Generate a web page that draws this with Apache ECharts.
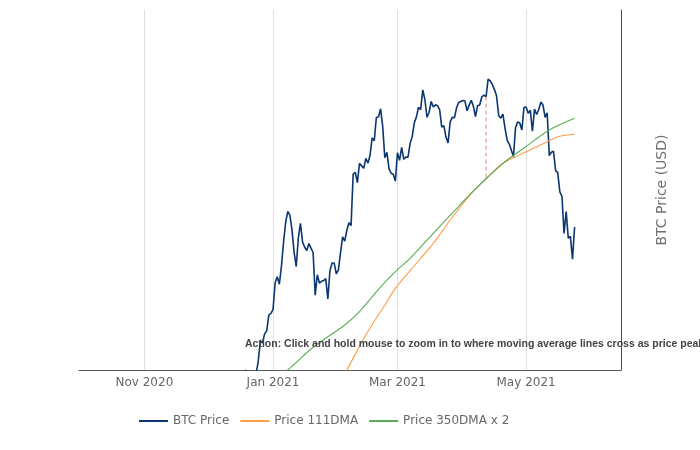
<!DOCTYPE html>
<html>
<head>
<meta charset="utf-8">
<script src="https://cdn.jsdelivr.net/npm/echarts@6/dist/echarts.min.js"></script>
<style>
html,body{margin:0;padding:0;background:#ffffff;}
#chart{width:700px;height:450px;}
</style>
</head>
<body>
<div id="chart"></div>
<script>
// ---------- DATA ----------
// BTC daily price (USD), one value per day starting at the given date
const priceDec2020Start = '2020-12-15';
const priceDec2020 = [19440, 21310, 22810, 23140, 24000, 23480, 22750, 23820, 23250, 23730,
  24710, 26490, 26280, 27080, 27360, 28840, 29000];
const priceJan2021Start = '2021-01-01';
const priceJan2021 = [29370, 32130, 32780, 31970, 33990, 36820, 39370, 40800, 40250, 38350,
  35570, 33920, 37320, 39190, 36830, 36180, 35790, 36630, 36070, 35550,
  30830, 33000, 32100, 32290, 32370, 32570, 30430, 33470, 34320, 34320, 33110];
const priceFeb2021Start = '2021-02-01';
const priceFeb2021 = [33540, 35510, 37470, 36930, 38300, 39260, 38900, 46200, 46480, 44920,
  47910, 47500, 47110, 48720, 47940, 49200, 52150, 51680, 55890, 55920,
  57490, 54210, 48820, 49710, 47070, 46340, 46190, 45140];
const priceMar2021Start = '2021-03-01';
const priceMar2021 = [49630, 48380, 50540, 48560, 48930, 48910, 51210, 52380, 54880, 55960,
  57780, 57330, 61240, 59300, 55880, 56830, 58910, 57850, 58250, 58100,
  57350, 54080, 54340, 52300, 51290, 55030, 55860, 55780, 57630, 58730, 58920];
const priceApr2021Start = '2021-04-01';
const priceApr2021 = [59100, 59000, 57090, 58200, 59130, 57990, 56030, 58100, 58240, 59790,
  60200, 59890, 63500, 63110, 62310, 61310, 60000, 56220, 55720, 56470,
  53910, 51760, 51090, 50050, 49000, 54020, 55030, 54820, 53550, 57750];
const priceMay2021Start = '2021-05-01';
const priceMay2021 = [57830, 56630, 57200, 53330, 57420, 56400, 57360, 58800, 58230, 55860,
  56700, 49150, 49720, 49880, 46760, 46430, 43540, 42910, 37900, 40780,
  37300, 37530, 34770, 38710];

// 111-day moving average
const dma111Dates = ['2021-02-01','2021-02-05','2021-02-14','2021-02-23','2021-02-28','2021-03-07',
  '2021-03-18','2021-03-26','2021-04-05','2021-04-12','2021-04-19','2021-04-24',
  '2021-05-01','2021-05-11','2021-05-16','2021-05-24'];
const dma111Values = [22780, 24000, 26980, 29830, 31540, 33460,
  36660, 39640, 43300, 45500, 47700, 48650,
  49810, 51500, 52370, 52790];

// 350-day moving average x 2
const dma350x2Dates = ['2021-01-01','2021-01-08','2021-01-20','2021-02-04','2021-02-11','2021-02-20',
  '2021-02-28','2021-03-07','2021-03-18','2021-03-30','2021-04-03','2021-04-12',
  '2021-04-22','2021-05-01','2021-05-12','2021-05-24'];
const dma350x2Values = [23100, 24000, 25900, 27900, 29170, 31440,
  33350, 34870, 37910, 41490, 42760, 45500,
  48440, 50680, 53560, 55690];

// Crossing marker (dashed vertical)
const crossDate = '2021-04-12';
const crossTop = 59890;
const crossBottom = 45500;

// Axis ticks
const xTickDates = ['2020-11-01', '2021-01-01', '2021-03-01', '2021-05-01'];
const xTickLabels = ['Nov 2020', 'Jan 2021', 'Mar 2021', 'May 2021'];
const xMinDate = '2020-10-01';
const xMaxDate = '2021-06-15';
const yMin = 24000;
const yMax = 80000;

const seriesNames = ['BTC Price', 'Price 111DMA', 'Price 350DMA x 2'];
const annotationText = 'Action: Click and hold mouse to zoom in to where moving average lines cross as price peaks';

// ---------- HELPERS ----------
function ts(s, addDays) {
  const p = s.split('-').map(Number);
  return Date.UTC(p[0], p[1] - 1, p[2] + (addDays || 0));
}
function daily(start, values) {
  return values.map((v, i) => [ts(start, i), v]);
}
const priceData = [].concat(
  daily(priceDec2020Start, priceDec2020),
  daily(priceJan2021Start, priceJan2021),
  daily(priceFeb2021Start, priceFeb2021),
  daily(priceMar2021Start, priceMar2021),
  daily(priceApr2021Start, priceApr2021),
  daily(priceMay2021Start, priceMay2021)
);
const dma111Data = dma111Dates.map((d, i) => [ts(d), dma111Values[i]]);
const dma350Data = dma350x2Dates.map((d, i) => [ts(d), dma350x2Values[i]]);
const crossData = [[ts(crossDate), crossTop], [ts(crossDate), crossBottom]];
const xTickTimes = xTickDates.map(d => ts(d));

const FONT = '"DejaVu Sans", Verdana, sans-serif';

const chart = echarts.init(document.getElementById('chart'), null, { renderer: 'canvas' });
chart.setOption({
  animation: false,
  backgroundColor: '#ffffff',
  grid: { left: 79, right: 79, top: 10, bottom: 80, containLabel: false },
  xAxis: {
    type: 'value',
    min: ts(xMinDate),
    max: ts(xMaxDate),
    axisLine: { show: true, onZero: false, lineStyle: { color: '#5a5a5a', width: 1 } },
    axisTick: { show: false, customValues: xTickTimes },
    axisLabel: {
      customValues: xTickTimes,
      margin: 7,
      color: '#666666',
      fontSize: 12,
      fontFamily: FONT,
      formatter: function (val) {
        for (let i = 0; i < xTickTimes.length; i++) {
          if (Math.abs(val - xTickTimes[i]) < 43200000) return xTickLabels[i];
        }
        return '';
      }
    },
    splitLine: { show: true, lineStyle: { color: '#dedede', width: 1 } }
  },
  yAxis: {
    type: 'log',
    logBase: 10,
    min: yMin,
    max: yMax,
    position: 'right',
    name: 'BTC Price (USD)',
    nameLocation: 'middle',
    nameRotate: 90,
    nameGap: 34,
    nameTextStyle: { color: '#707070', fontSize: 14, fontFamily: FONT },
    axisLine: { show: true, lineStyle: { color: '#4a4a4a', width: 1 } },
    axisTick: { show: false },
    axisLabel: { show: false },
    splitLine: { show: false }
  },
  legend: {
    data: seriesNames,
    icon: 'rect',
    left: 134,
    top: 409,
    itemWidth: 29,
    itemHeight: 2,
    itemGap: 11,
    padding: [6, 5, 5, 5],
    textStyle: { color: '#666666', fontSize: 12, fontFamily: FONT }
  },
  series: [
    {
      name: seriesNames[0], type: 'line', data: priceData, symbol: 'none', clip: true,
      lineStyle: { color: '#0b3670', width: 1.6 }, itemStyle: { color: '#0b3670' }, z: 2
    },
    {
      name: seriesNames[1], type: 'line', data: dma111Data, symbol: 'none', clip: true,
      smooth: 0.3,
      lineStyle: { color: '#ff9d47', width: 1.1 }, itemStyle: { color: '#ff9d47' }, z: 3
    },
    {
      name: seriesNames[2], type: 'line', data: dma350Data, symbol: 'none', clip: true,
      smooth: 0.3,
      lineStyle: { color: '#5aad55', width: 1.1 }, itemStyle: { color: '#5aad55' }, z: 4
    },
    {
      name: 'cross', type: 'line', data: crossData, symbol: 'none', clip: true,
      lineStyle: { color: '#f07878', width: 1, type: [4, 3] }, z: 1, silent: true
    }
  ],
  graphic: [
    {
      type: 'text', left: 245, top: 339, z: 10,
      style: { text: annotationText, fill: '#444444', font: 'bold 10.5px "Liberation Sans", Arial, sans-serif' }
    }
  ]
});
</script>
</body>
</html>
